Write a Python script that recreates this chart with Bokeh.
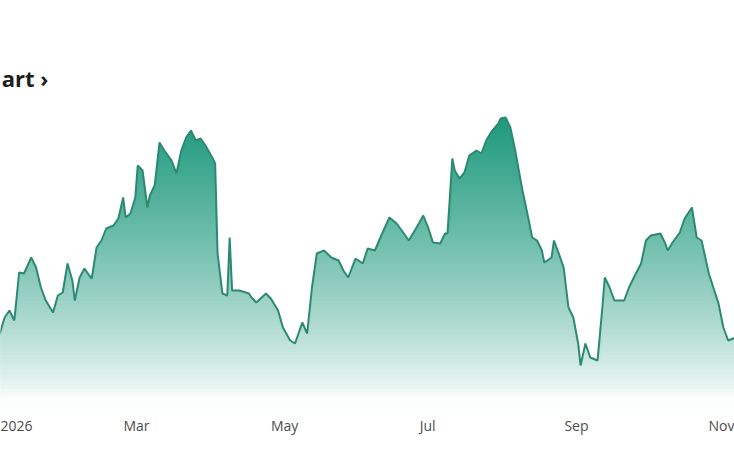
import numpy as np
from bokeh.plotting import figure
from bokeh.models import Label, FixedTicker, Range1d
from bokeh.embed import file_html
from bokeh.resources import INLINE

# ---- data -------------------------------------------------------------
days = [0, 3, 5, 7, 9, 11, 13, 16, 18, 20, 22, 25, 27, 29, 31, 33, 34, 36, 38, 40,
        41, 43, 45, 47, 50, 52, 54, 55, 57, 59, 60, 62, 64, 65, 67, 69, 71, 74, 76, 78,
        80, 82, 84, 86, 88, 91, 92, 93, 95, 97, 98, 99, 102, 106, 107, 109, 113, 115, 118, 120,
        123, 125, 128, 130, 132, 134, 137, 140, 143, 145, 147, 150, 153, 155, 158, 161, 164, 167, 170, 172,
        175, 178, 180, 182, 185, 187, 188, 190, 191, 193, 195, 197, 200, 202, 204, 206, 209, 210, 212, 214,
        216, 218, 219, 221, 223, 225, 227, 228, 231, 232, 234, 236, 238, 240, 242, 243, 245, 247, 250, 252,
        253, 255, 257, 261, 263, 265, 268, 270, 272, 276, 278, 279, 281, 284, 286, 289, 291, 293, 296, 300,
        302, 304, 306, 309]
prices = [31.0, 33.4, 36.6, 38.0, 36.0, 45.6, 45.4, 48.6, 46.6, 42.6, 40.0, 37.6, 41.0, 41.6, 47.4, 44.0, 40.0, 44.6, 46.4, 45.0,
          44.4, 50.6, 52.0, 54.4, 55.0, 56.4, 60.6, 56.6, 57.4, 60.6, 67.0, 66.0, 58.6, 61.0, 63.0, 71.6, 70.0, 68.0, 65.4, 70.0,
          72.6, 74.0, 72.0, 72.4, 71.0, 68.4, 67.4, 49.4, 41.4, 41.0, 52.6, 42.0, 42.0, 41.4, 40.6, 39.6, 41.4, 40.4, 38.0, 34.6,
          32.0, 31.4, 35.6, 33.4, 42.6, 49.4, 50.0, 48.6, 48.0, 46.0, 44.6, 48.4, 47.4, 50.4, 50.0, 53.4, 56.6, 55.4, 53.4, 52.0,
          54.4, 57.0, 54.6, 51.6, 51.4, 53.4, 53.4, 68.4, 66.0, 64.4, 65.6, 69.0, 70.0, 69.4, 72.0, 73.6, 75.4, 76.4, 76.6, 74.6,
          70.0, 64.6, 62.0, 57.4, 52.6, 52.0, 50.0, 47.6, 48.6, 52.0, 49.4, 46.6, 38.6, 36.6, 31.4, 27.0, 31.4, 28.6, 28.0, 38.6,
          44.6, 42.6, 40.0, 40.0, 42.6, 44.6, 47.4, 52.0, 53.0, 53.4, 51.4, 50.0, 51.6, 53.6, 56.4, 58.6, 52.6, 52.0, 45.4, 39.4,
          34.6, 32.0, 32.4, 33.0]
tick_pos = [3.4, 59.5, 120.7, 179.8, 241.3, 306.2]
tick_labels = ["2026", "Mar", "May", "Jul", "Sep", "Nov"]

assert len(days) == len(prices)

# ---- figure -----------------------------------------------------------
X0, X1 = 3.3, 306.6
Y0, Y1 = 18.0, 100.0
p = figure(width=734, height=458, output_backend="svg", toolbar_location=None,
           x_range=Range1d(X0, X1), y_range=Range1d(Y0, Y1),
           min_border=0, min_border_bottom=48, outline_line_color=None,
           background_fill_color="white", border_fill_color="white")
p.grid.visible = False
p.yaxis.visible = False

# vertical gradient under the curve: overlapping bands (level -> curve), drawn bottom-up
pr = np.array(prices)
n = 80
levels = np.linspace(Y0, pr.max(), n + 1)[:-1]
top_rgb = np.array([28, 152, 124])
bot_rgb = np.array([252, 254, 253])
t = np.clip((levels - 20.0) / (77.0 - 20.0), 0, 1) ** 0.8
for lv, tt in zip(levels, t):
    c = bot_rgb * (1 - tt) + top_rgb * tt
    col = "#%02x%02x%02x" % tuple(int(round(v)) for v in c)
    p.varea(x=days, y1=np.minimum(pr, lv), y2=pr, fill_color=col)
p.line(days, prices, line_color="#2d8a72", line_width=2)

# x axis
ax = p.xaxis[0]
ax.ticker = FixedTicker(ticks=tick_pos)
ax.major_label_overrides = {tp: lab for tp, lab in zip(tick_pos, tick_labels)}
ax.axis_line_color = None
ax.major_tick_line_color = None
ax.minor_tick_line_color = None
ax.major_tick_out = 0
ax.major_tick_in = 0
ax.minor_tick_out = 0
ax.major_label_standoff = 5
ax.major_label_text_font = "Open Sans"
ax.major_label_text_font_size = "14px"
ax.major_label_text_color = "#4d4d4d"

# header text (only its tail is visible in the view)
p.add_layout(Label(x=23.1, y=84.6, text="art \u203a", text_align="right",
                   text_baseline="alphabetic", text_font="Open Sans",
                   text_font_size="22px", text_font_style="bold", text_color="#1e1e1e"))

open("out.html", "w").write(file_html(p, INLINE))
